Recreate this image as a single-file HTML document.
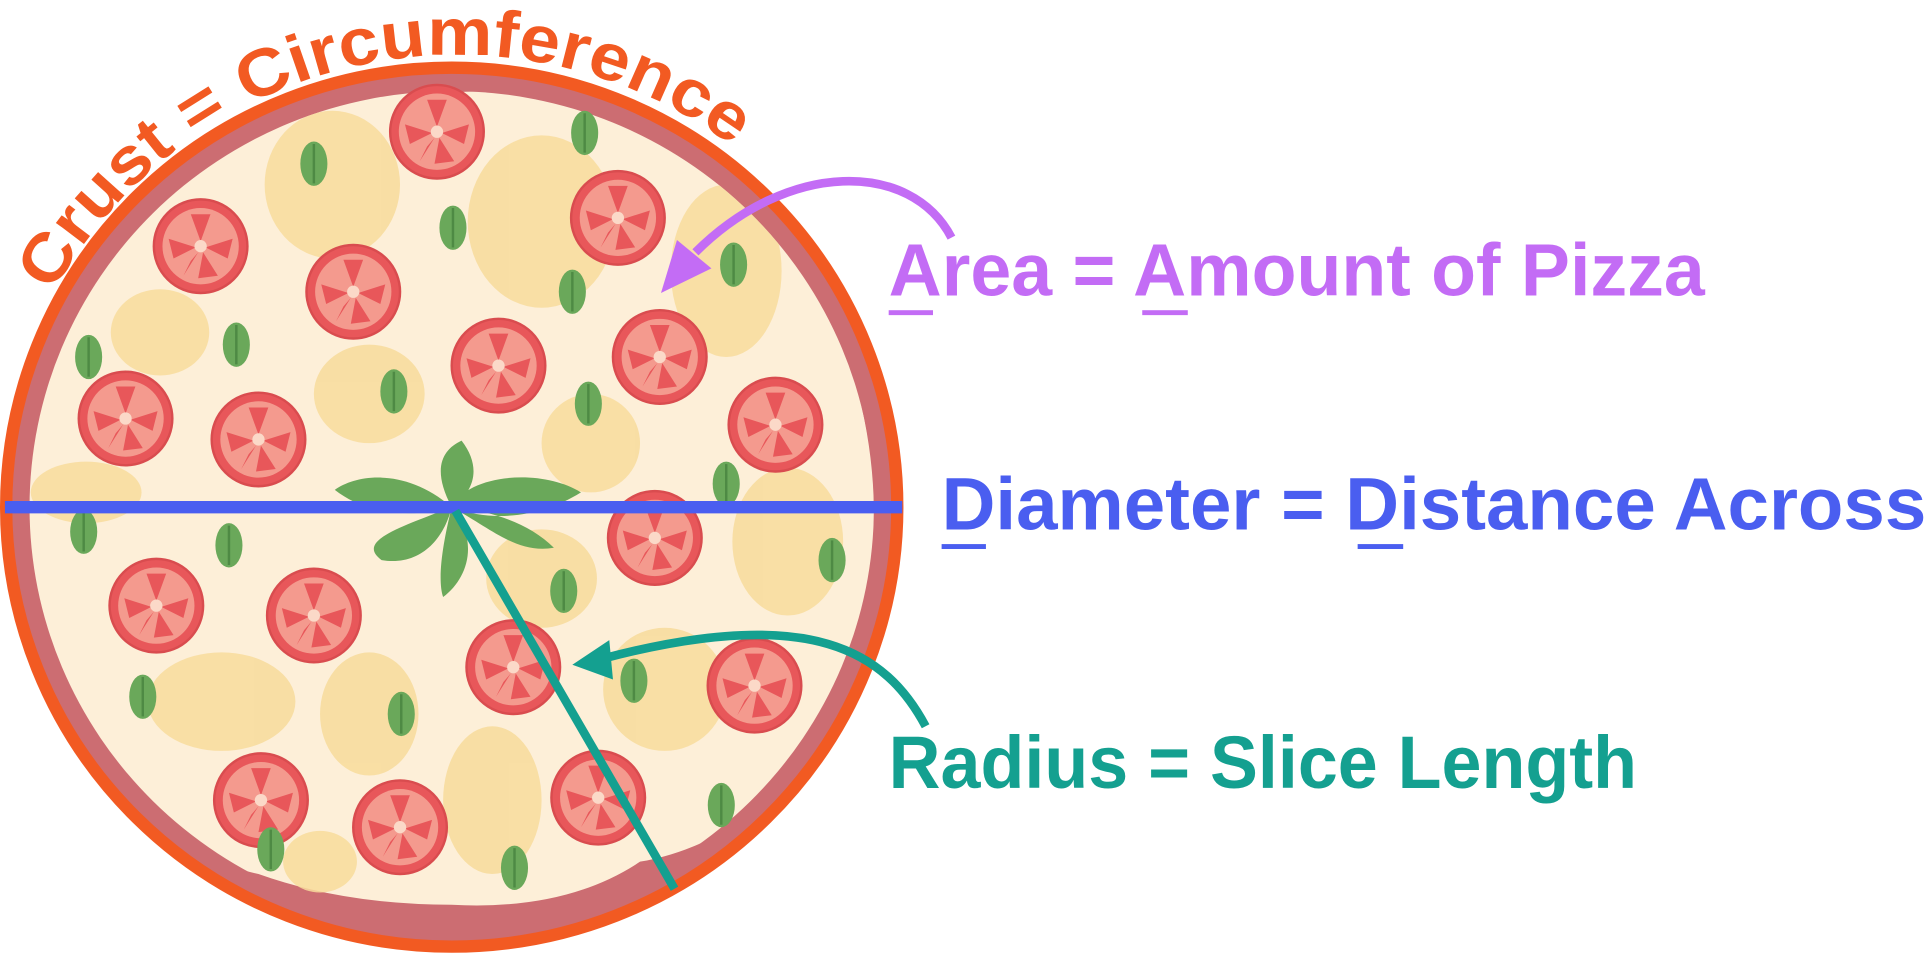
<!DOCTYPE html>
<html><head><meta charset="utf-8"><style>html,body{margin:0;padding:0;background:#fff;overflow:hidden}svg{display:block}</style></head>
<body>
<svg width="1930" height="954" viewBox="0 0 1568 775" preserveAspectRatio="none" xmlns="http://www.w3.org/2000/svg">
<defs>
<g id="tom"><circle r="38" fill="#e8575a" stroke="#d94c4f" stroke-width="2"/><circle r="31" fill="#f49a8e"/>
<path d="M0,-4 L-8,-26 L8,-26 Z M4,1 L26,-6 L22,10 Z M-4,1 L-26,-6 L-22,10 Z M2,5 L14,24 L-2,26 Z M-2,5 L-14,24 L-8,12 Z" fill="#e8575a"/><circle r="5" fill="#fbd9c8"/></g>
<g id="leaf"><ellipse rx="11" ry="18" fill="#6aa85a"/><line x1="0" y1="-16" x2="0" y2="16" stroke="#4e8a44" stroke-width="2"/></g>
<clipPath id="inner"><ellipse cx="367" cy="412" rx="343" ry="338"/></clipPath>
</defs>
<ellipse cx="367" cy="412" rx="362" ry="357" fill="#cc6d72" stroke="#f25a22" stroke-width="10"/>
<g clip-path="url(#inner)">
<path d="M60,150 Q120,90 200,95 Q280,60 367,75 Q450,70 520,100 Q600,140 640,190 Q690,260 700,330 Q720,420 700,500 Q690,580 640,640 Q580,690 520,700 Q460,740 367,735 Q280,735 210,710 Q120,690 90,630 Q40,560 30,480 Q15,400 30,320 Q40,220 60,150 Z" fill="#fdefd8"/>
<g fill="#f8dc9c" opacity="0.85">
<ellipse cx="270" cy="150" rx="55" ry="60"/><ellipse cx="440" cy="180" rx="60" ry="70"/><ellipse cx="590" cy="220" rx="45" ry="70"/>
<ellipse cx="130" cy="270" rx="40" ry="35"/><ellipse cx="300" cy="320" rx="45" ry="40"/><ellipse cx="480" cy="360" rx="40" ry="40"/>
<ellipse cx="70" cy="400" rx="45" ry="25"/><ellipse cx="640" cy="440" rx="45" ry="60"/><ellipse cx="440" cy="470" rx="45" ry="40"/>
<ellipse cx="180" cy="570" rx="60" ry="40"/><ellipse cx="300" cy="580" rx="40" ry="50"/><ellipse cx="540" cy="560" rx="50" ry="50"/>
<ellipse cx="400" cy="650" rx="40" ry="60"/><ellipse cx="260" cy="700" rx="30" ry="25"/>
</g>
</g>
<use href="#tom" x="355" y="107"/><use href="#tom" x="163" y="200"/><use href="#tom" x="502" y="177"/><use href="#tom" x="287" y="237"/>
<use href="#tom" x="405" y="297"/><use href="#tom" x="536" y="290"/><use href="#tom" x="102" y="340"/><use href="#tom" x="210" y="357"/>
<use href="#tom" x="630" y="345"/><use href="#tom" x="532" y="437"/><use href="#tom" x="127" y="492"/><use href="#tom" x="255" y="500"/>
<use href="#tom" x="417" y="542"/><use href="#tom" x="613" y="557"/><use href="#tom" x="212" y="650"/><use href="#tom" x="325" y="672"/><use href="#tom" x="486" y="648"/>
<use href="#leaf" x="255" y="133"/><use href="#leaf" x="475" y="108"/><use href="#leaf" x="368" y="185"/><use href="#leaf" x="596" y="215"/>
<use href="#leaf" x="465" y="237"/><use href="#leaf" x="192" y="280"/><use href="#leaf" x="72" y="290"/><use href="#leaf" x="320" y="318"/>
<use href="#leaf" x="478" y="328"/><use href="#leaf" x="590" y="393"/><use href="#leaf" x="68" y="432"/><use href="#leaf" x="186" y="443"/>
<use href="#leaf" x="676" y="455"/><use href="#leaf" x="458" y="480"/><use href="#leaf" x="515" y="553"/><use href="#leaf" x="116" y="566"/>
<use href="#leaf" x="326" y="580"/><use href="#leaf" x="586" y="654"/><use href="#leaf" x="220" y="690"/><use href="#leaf" x="418" y="705"/>
<path d="M367,412 C330,380 290,385 272,398 C300,420 340,420 367,412 Z M367,412 C380,385 440,380 472,400 C440,420 400,425 367,412 Z M367,412 C350,380 360,365 375,358 C392,380 385,400 367,412 Z M367,412 C320,430 290,440 310,455 C340,460 360,440 367,412 Z M367,412 C360,440 355,470 360,485 C380,470 390,440 367,412 Z M367,412 C400,430 420,450 450,445 C430,425 400,415 367,412 Z" fill="#6aa85a"/>
<line x1="4" y1="412" x2="733" y2="412" stroke="#4a5ef0" stroke-width="10"/>
<line x1="370" y1="415" x2="548" y2="722" stroke="#14a090" stroke-width="7"/>
<path id="arc" d="M43,238 A374,372 0 0 1 612,132" fill="none"/>
<text font-family="Liberation Sans, sans-serif" font-weight="bold" font-size="54" fill="#f25a22"><textPath href="#arc" textLength="640" lengthAdjust="spacingAndGlyphs">Crust = Circumference</textPath></text>
<path d="M773,193 C740,130 640,130 565,205" fill="none" stroke="#c36cf5" stroke-width="7"/>
<path d="M537,238 L550,195 L578,218 Z" fill="#c36cf5"/>
<path d="M752,590 C720,530 660,490 490,535" fill="none" stroke="#14a090" stroke-width="7"/>
<path d="M465,540 L495,520 L498,552 Z" fill="#14a090"/>
<g font-family="Liberation Sans, sans-serif" font-weight="bold" font-size="60">
<text x="722" y="240" fill="#c36cf5" textLength="663" lengthAdjust="spacingAndGlyphs">Area = Amount of Pizza</text>
<text x="765" y="430" fill="#4a5ef0" textLength="800" lengthAdjust="spacingAndGlyphs">Diameter = Distance Across</text>
<text x="722" y="640" fill="#14a090" textLength="608" lengthAdjust="spacingAndGlyphs">Radius = Slice Length</text>
</g>
<rect x="722" y="252" width="36" height="4" fill="#c36cf5"/><rect x="928" y="252" width="37" height="4" fill="#c36cf5"/>
<rect x="765" y="442" width="36" height="4" fill="#4a5ef0"/><rect x="1103" y="442" width="37" height="4" fill="#4a5ef0"/>
</svg>
</body></html>
